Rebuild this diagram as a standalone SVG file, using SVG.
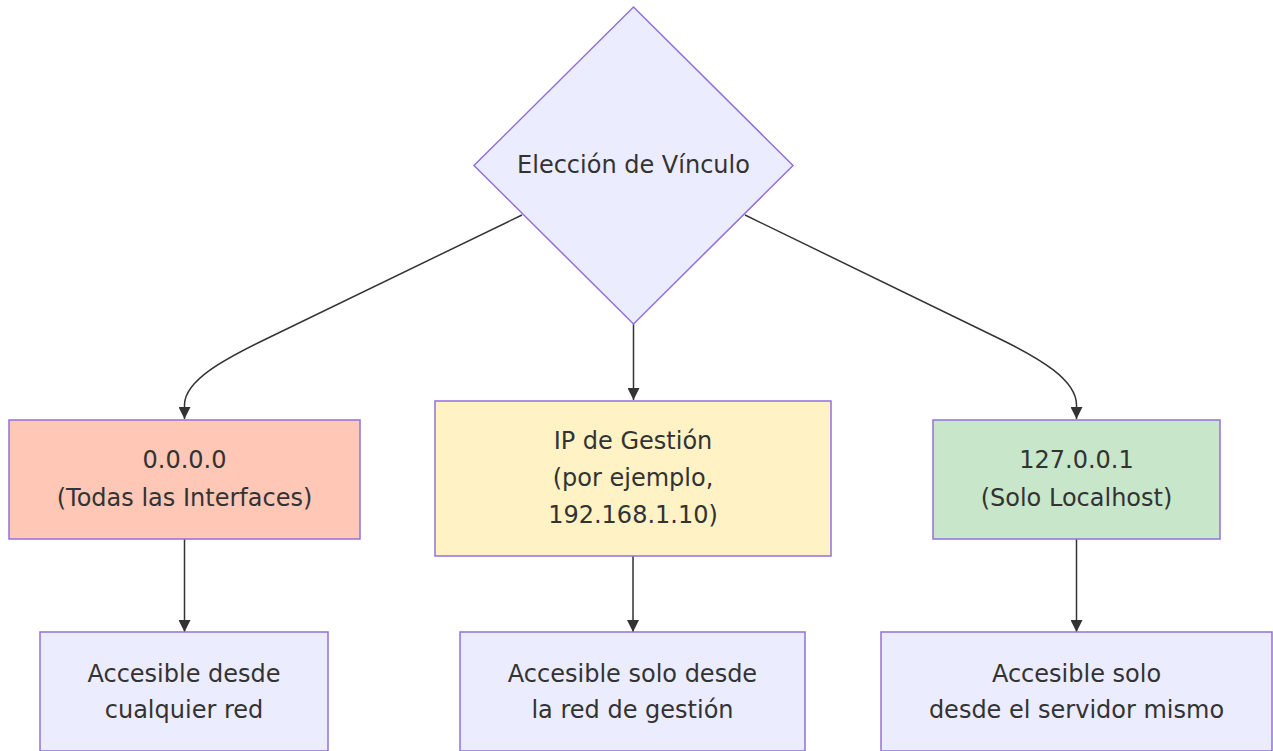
<svg xmlns="http://www.w3.org/2000/svg" width="1273" height="751" viewBox="0 0 1273 751">
<style>
  .node { stroke: #9370DB; stroke-width: 1.5; }
  .def { fill: #ECECFF; }
  .red { fill: #FFC7B6; }
  .yel { fill: #FFF2C4; }
  .grn { fill: #C8E6C9; }
  .lbl { font-family: "DejaVu Sans", Verdana, sans-serif; font-size: 24px; fill: #333333; text-anchor: middle; }
  .edge { fill: none; stroke: #333333; stroke-width: 1.5; }
</style>
<defs>
  <marker id="arrow" markerUnits="userSpaceOnUse" viewBox="0 0 12 12" refX="12" refY="6" markerWidth="12" markerHeight="12" orient="auto">
    <path d="M0,0 L12,6 L0,12 z" fill="#333333"/>
  </marker>
</defs>
<rect width="1273" height="751" fill="#ffffff"/>
<g id="connectors">
  <path class="edge" d="M522,215 L266,339 C226,358.5 184.5,380 184.5,405 L184.5,419" marker-end="url(#arrow)"/>
  <path class="edge" d="M633.5,324 L633.5,400" marker-end="url(#arrow)"/>
  <path class="edge" d="M745,215 L1000,339 C1040,358.5 1076.5,380 1076.5,405 L1076.5,419" marker-end="url(#arrow)"/>
  <path class="edge" d="M184.5,539 L184.5,632" marker-end="url(#arrow)"/>
  <path class="edge" d="M633,556 L633,632" marker-end="url(#arrow)"/>
  <path class="edge" d="M1076.5,539 L1076.5,632" marker-end="url(#arrow)"/>
</g>
<g id="decision">
  <polygon class="node def" points="633.5,7 793,165.5 633.5,324 474,165.5"/>
  <text class="lbl" x="633.5" y="172.5">Elección de Vínculo</text>
</g>
<g id="all-interfaces">
  <rect class="node red" x="9" y="420" width="351" height="119"/>
  <text class="lbl" x="184.5" y="467.5">0.0.0.0</text>
  <text class="lbl" x="184.5" y="505.5">(Todas las Interfaces)</text>
</g>
<g id="mgmt-ip">
  <rect class="node yel" x="435" y="401" width="396" height="155"/>
  <text class="lbl" x="633" y="449">IP de Gestión</text>
  <text class="lbl" x="633" y="486">(por ejemplo,</text>
  <text class="lbl" x="633" y="523">192.168.1.10)</text>
</g>
<g id="localhost">
  <rect class="node grn" x="933" y="420" width="287" height="119"/>
  <text class="lbl" x="1076.5" y="467.5">127.0.0.1</text>
  <text class="lbl" x="1076.5" y="505.5">(Solo Localhost)</text>
</g>
<g id="any-network">
  <rect class="node def" x="40" y="632" width="288" height="119"/>
  <text class="lbl" x="184" y="682">Accesible desde</text>
  <text class="lbl" x="184" y="718">cualquier red</text>
</g>
<g id="mgmt-network">
  <rect class="node def" x="460" y="632" width="345" height="119"/>
  <text class="lbl" x="632.5" y="682">Accesible solo desde</text>
  <text class="lbl" x="632.5" y="718">la red de gestión</text>
</g>
<g id="server-only">
  <rect class="node def" x="881" y="632" width="391" height="119"/>
  <text class="lbl" x="1076.5" y="682">Accesible solo</text>
  <text class="lbl" x="1076.5" y="718">desde el servidor mismo</text>
</g>
</svg>
